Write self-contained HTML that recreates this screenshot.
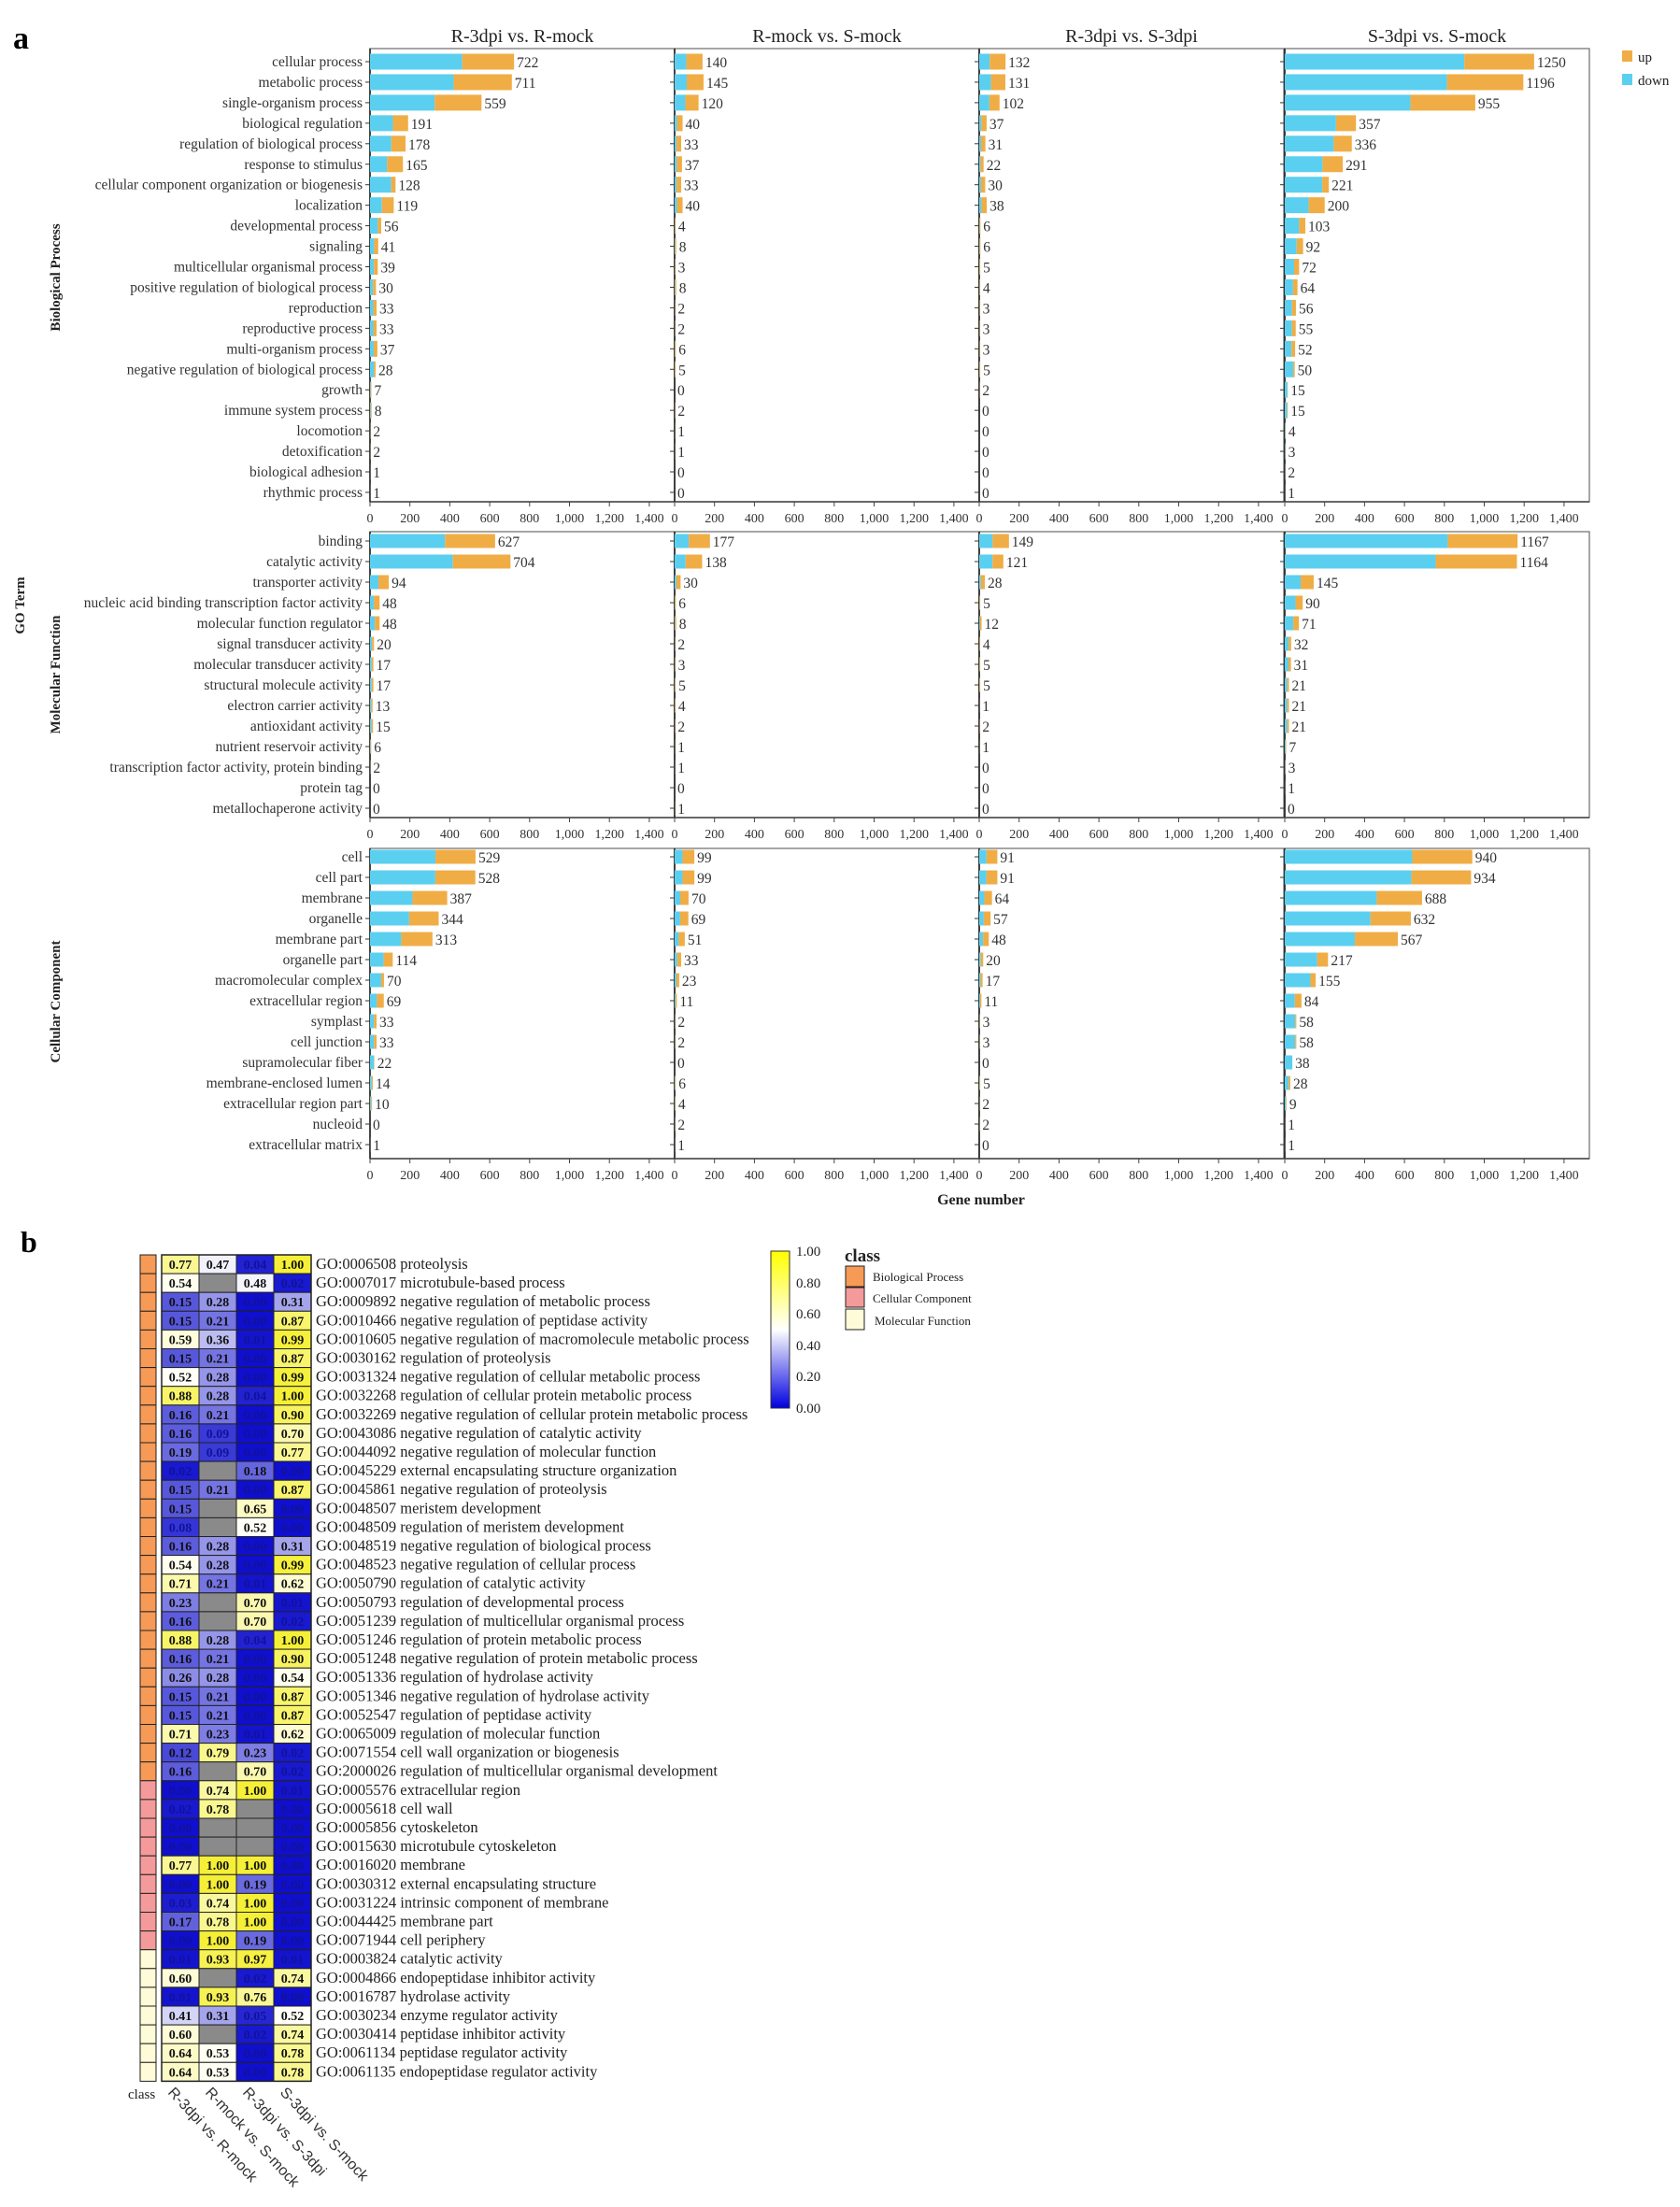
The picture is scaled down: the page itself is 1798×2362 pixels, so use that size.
<!DOCTYPE html>
<html><head><meta charset="utf-8"><style>
html,body{margin:0;padding:0;background:#fff;}
svg{display:block;}
</style></head><body>
<svg id="s" xmlns="http://www.w3.org/2000/svg" width="1798" height="2362" viewBox="0 0 1798 2362">
<rect width="1798" height="2362" fill="#fff"/>
<text x="14" y="52" font-family="Liberation Serif, serif" font-weight="bold" font-size="34">a</text>
<text x="22" y="1340" font-family="Liberation Serif, serif" font-weight="bold" font-size="32">b</text>
<g font-family="Liberation Serif, serif" font-size="20" text-anchor="middle" fill="#222">
<text x="559" y="45">R-3dpi vs. R-mock</text>
<text x="885" y="45">R-mock vs. S-mock</text>
<text x="1211" y="45">R-3dpi vs. S-3dpi</text>
<text x="1538" y="45">S-3dpi vs. S-mock</text>
</g>
<g font-family="Liberation Serif, serif" font-weight="bold" font-size="15" text-anchor="middle" fill="#222">
<text transform="translate(64,297) rotate(-90)">Biological  Process</text>
<text transform="translate(64,722) rotate(-90)">Molecular  Function</text>
<text transform="translate(64,1072) rotate(-90)">Cellular  Component</text>
<text transform="translate(26,648) rotate(-90)">GO Term</text>
<text x="1050" y="1289" font-size="16">Gene number</text>
</g>
<rect x="1736" y="54" width="11" height="12" fill="#f0ad45"/>
<rect x="1736" y="79" width="11" height="12" fill="#5bcff0"/>
<g font-family="Liberation Serif, serif" font-size="15" fill="#222">
<text x="1753" y="66">up</text><text x="1753" y="91">down</text>
</g>
<g id="charts"></g>
<g id="heat"></g>
<defs><linearGradient id="cb" x1="0" y1="1" x2="0" y2="0">
<stop offset="0" stop-color="#0000e0"/><stop offset="0.5" stop-color="#ffffff"/><stop offset="1" stop-color="#ffff00"/></linearGradient></defs>
<rect x="825" y="1339" width="20" height="168" fill="url(#cb)" stroke="#333" stroke-width="1"/>
<g font-family="Liberation Serif, serif" font-size="15" fill="#222">
<text x="852" y="1344">1.00</text><text x="852" y="1378">0.80</text><text x="852" y="1411">0.60</text>
<text x="852" y="1445">0.40</text><text x="852" y="1478">0.20</text><text x="852" y="1512">0.00</text>
<text x="904" y="1350" font-weight="bold" font-size="19">class</text>
<text x="934" y="1371" font-size="13">Biological Process</text>
<text x="934" y="1394" font-size="13">Cellular Component</text>
<text x="936" y="1418" font-size="13">Molecular Function</text>
</g>
<rect x="905" y="1355" width="20" height="22" fill="#f79a55" stroke="#222"/>
<rect x="905" y="1378" width="20" height="21" fill="#f59a9a" stroke="#222"/>
<rect x="905" y="1401" width="20" height="22" fill="#fdfbd8" stroke="#222"/>
</svg>
<script>
var NS="http://www.w3.org/2000/svg";
function el(p,t,a,txt){var e=document.createElementNS(NS,t);for(var k in a)e.setAttribute(k,a[k]);if(txt!==undefined)e.textContent=txt;p.appendChild(e);return e;}
var C=document.getElementById("charts");
var PX=[396,722,1048,1375],W=326,K=0.2135;
function section(top,bottom,y0,sp,bh,labels,vals,fr){
  labels.forEach(function(l,i){el(C,"text",{x:388,y:y0+i*sp+5,"text-anchor":"end","font-family":"Liberation Serif, serif","font-size":15.5,fill:"#333"},l);});
  for(var p=0;p<4;p++){
    var x0=PX[p];
    el(C,"rect",{x:x0,y:top,width:W,height:bottom-top,fill:"none",stroke:"#777","stroke-width":1.3});
    el(C,"line",{x1:x0,y1:top,x2:x0,y2:bottom,stroke:"#222","stroke-width":1.6});
    el(C,"line",{x1:x0,y1:bottom,x2:x0+W,y2:bottom,stroke:"#444","stroke-width":1.4});
    for(var t=0;t<=1400;t+=200){var tx=x0+t*K;
      el(C,"line",{x1:tx,y1:bottom,x2:tx,y2:bottom+5,stroke:"#444"});
      el(C,"text",{x:tx,y:bottom+22,"text-anchor":"middle","font-family":"Liberation Serif, serif","font-size":14,fill:"#333"},t>=1000?(t/1000|0)+","+String(t%1000).padStart(3,"0"):String(t));}
    vals[p].forEach(function(v,i){var cy=y0+i*sp;
      el(C,"line",{x1:x0-5,y1:cy,x2:x0,y2:cy,stroke:"#333"});
      var w=v*K,f=fr[p][i];
      if(w>0){el(C,"rect",{x:x0,y:cy-bh/2,width:w*f,height:bh,fill:"#5bcff0"});
        el(C,"rect",{x:x0+w*f,y:cy-bh/2,width:w*(1-f),height:bh,fill:"#f0ad45"});}
      el(C,"text",{x:x0+w+3,y:cy+6,"font-family":"Liberation Serif, serif","font-size":15.5,fill:"#333"},String(v));
    });
  }
}
function fill(n,d,o){var a=[];for(var i=0;i<n;i++)a.push(d);for(var k in o)a[k]=o[k];return a;}
section(52,537,66,21.95,17,
["cellular process","metabolic process","single-organism process","biological regulation","regulation of biological process","response to stimulus","cellular component organization or biogenesis","localization","developmental process","signaling","multicellular organismal process","positive regulation of biological process","reproduction","reproductive process","multi-organism process","negative regulation of biological process","growth","immune system process","locomotion","detoxification","biological adhesion","rhythmic process"],
[[722,711,559,191,178,165,128,119,56,41,39,30,33,33,37,28,7,8,2,2,1,1],
 [140,145,120,40,33,37,33,40,4,8,3,8,2,2,6,5,0,2,1,1,0,0],
 [132,131,102,37,31,22,30,38,6,6,5,4,3,3,3,5,2,0,0,0,0,0],
 [1250,1196,955,357,336,291,221,200,103,92,72,64,56,55,52,50,15,15,4,3,2,1]],
[fill(22,0.5,{0:0.64,1:0.59,2:0.58,3:0.6,4:0.6,5:0.52,6:0.83,7:0.5,8:0.7,15:0.7}),
 fill(22,0.3,{0:0.42,1:0.42,2:0.45}),
 fill(22,0.3,{0:0.4,1:0.45,2:0.5}),
 fill(22,0.65,{0:0.72,1:0.68,2:0.66,3:0.72,4:0.73,5:0.65,6:0.85,7:0.6,8:0.7,15:0.85,16:0.9,17:0.8})]);
section(569,875,579,22,15,
["binding","catalytic activity","transporter activity","nucleic acid binding transcription factor activity","molecular function regulator","signal transducer activity","molecular transducer activity","structural molecule activity","electron carrier activity","antioxidant activity","nutrient reservoir activity","transcription factor activity, protein binding","protein tag","metallochaperone activity"],
[[627,704,94,48,48,20,17,17,13,15,6,2,0,0],
 [177,138,30,6,8,2,3,5,4,2,1,1,0,1],
 [149,121,28,5,12,4,5,5,1,2,1,0,0,0],
 [1167,1164,145,90,71,32,31,21,21,21,7,3,1,0]],
[fill(14,0.5,{0:0.6,1:0.59,2:0.45,3:0.4}),fill(14,0.3,{0:0.4,1:0.4}),fill(14,0.3,{0:0.45,1:0.55}),fill(14,0.6,{0:0.7,1:0.65,2:0.55,3:0.6})]);
section(908,1240,917,22,15,
["cell","cell part","membrane","organelle","membrane part","organelle part","macromolecular complex","extracellular region","symplast","cell junction","supramolecular fiber","membrane-enclosed lumen","extracellular region part","nucleoid","extracellular matrix"],
[[529,528,387,344,313,114,70,69,33,33,22,14,10,0,1],
 [99,99,70,69,51,33,23,11,2,2,0,6,4,2,1],
 [91,91,64,57,48,20,17,11,3,3,0,5,2,2,0],
 [940,934,688,632,567,217,155,84,58,58,38,28,9,1,1]],
[fill(15,0.6,{0:0.62,1:0.62,2:0.55,3:0.57,4:0.5,5:0.6,6:0.8,7:0.5,10:0.9}),fill(15,0.4,{}),fill(15,0.4,{}),fill(15,0.7,{0:0.68,1:0.68,2:0.67,3:0.68,4:0.62,5:0.75,6:0.83,7:0.6,8:0.9,9:0.9,10:1})]);

var H=document.getElementById("heat");
var N=null;
var rows=[
["GO:0006508 proteolysis",0,[0.77,0.47,0.04,1.00]],
["GO:0007017 microtubule-based process",0,[0.54,N,0.48,0.02]],
["GO:0009892 negative regulation of metabolic process",0,[0.15,0.28,0.00,0.31]],
["GO:0010466 negative regulation of peptidase activity",0,[0.15,0.21,0.00,0.87]],
["GO:0010605 negative regulation of macromolecule metabolic process",0,[0.59,0.36,0.01,0.99]],
["GO:0030162 regulation of proteolysis",0,[0.15,0.21,0.00,0.87]],
["GO:0031324 negative regulation of cellular metabolic process",0,[0.52,0.28,0.00,0.99]],
["GO:0032268 regulation of cellular protein metabolic process",0,[0.88,0.28,0.04,1.00]],
["GO:0032269 negative regulation of cellular protein metabolic process",0,[0.16,0.21,0.00,0.90]],
["GO:0043086 negative regulation of catalytic activity",0,[0.16,0.09,0.00,0.70]],
["GO:0044092 negative regulation of molecular function",0,[0.19,0.09,0.00,0.77]],
["GO:0045229 external encapsulating structure organization",0,[0.02,N,0.18,0.00]],
["GO:0045861 negative regulation of proteolysis",0,[0.15,0.21,0.00,0.87]],
["GO:0048507 meristem development",0,[0.15,N,0.65,0.00]],
["GO:0048509 regulation of meristem development",0,[0.08,N,0.52,0.00]],
["GO:0048519 negative regulation of biological process",0,[0.16,0.28,0.00,0.31]],
["GO:0048523 negative regulation of cellular process",0,[0.54,0.28,0.00,0.99]],
["GO:0050790 regulation of catalytic activity",0,[0.71,0.21,0.01,0.62]],
["GO:0050793 regulation of developmental process",0,[0.23,N,0.70,0.01]],
["GO:0051239 regulation of multicellular organismal process",0,[0.16,N,0.70,0.02]],
["GO:0051246 regulation of protein metabolic process",0,[0.88,0.28,0.04,1.00]],
["GO:0051248 negative regulation of protein metabolic process",0,[0.16,0.21,0.00,0.90]],
["GO:0051336 regulation of hydrolase activity",0,[0.26,0.28,0.00,0.54]],
["GO:0051346 negative regulation of hydrolase activity",0,[0.15,0.21,0.00,0.87]],
["GO:0052547 regulation of peptidase activity",0,[0.15,0.21,0.00,0.87]],
["GO:0065009 regulation of molecular function",0,[0.71,0.23,0.01,0.62]],
["GO:0071554 cell wall organization or biogenesis",0,[0.12,0.79,0.23,0.02]],
["GO:2000026 regulation of multicellular organismal development",0,[0.16,N,0.70,0.02]],
["GO:0005576 extracellular region",1,[0.00,0.74,1.00,0.01]],
["GO:0005618 cell wall",1,[0.02,0.78,N,0.00]],
["GO:0005856 cytoskeleton",1,[0.00,N,N,0.00]],
["GO:0015630 microtubule cytoskeleton",1,[0.00,N,N,0.00]],
["GO:0016020 membrane",1,[0.77,1.00,1.00,0.00]],
["GO:0030312 external encapsulating structure",1,[0.00,1.00,0.19,0.00]],
["GO:0031224 intrinsic component of membrane",1,[0.03,0.74,1.00,0.00]],
["GO:0044425 membrane part",1,[0.17,0.78,1.00,0.00]],
["GO:0071944 cell periphery",1,[0.00,1.00,0.19,0.00]],
["GO:0003824 catalytic activity",2,[0.01,0.93,0.97,0.01]],
["GO:0004866 endopeptidase inhibitor activity",2,[0.60,N,0.02,0.74]],
["GO:0016787 hydrolase activity",2,[0.01,0.93,0.76,0.00]],
["GO:0030234 enzyme regulator activity",2,[0.41,0.31,0.05,0.52]],
["GO:0030414 peptidase inhibitor activity",2,[0.60,N,0.02,0.74]],
["GO:0061134 peptidase regulator activity",2,[0.64,0.53,0.00,0.78]],
["GO:0061135 endopeptidase regulator activity",2,[0.64,0.53,0.00,0.78]]];
var CLS=["#f79a55","#f59a9a","#fdfbd8"];
function col(v){var r,g,b;
 if(v<=0.5){var t=v/0.5;r=15+t*240;g=15+t*240;b=205+t*50;}
 else{var t=(v-0.5)/0.5;r=255-t*10;g=255-t*15;b=255-t*200;}
 return "rgb("+Math.round(r)+","+Math.round(g)+","+Math.round(b)+")";}
var TOP=1343,RH=20.1,CX=[173,213,253,293],CW=40;
rows.forEach(function(r,i){var y=TOP+i*RH;
 el(H,"rect",{x:150,y:y,width:17,height:RH,fill:CLS[r[1]],stroke:"#222","stroke-width":1});
 r[2].forEach(function(v,j){
  el(H,"rect",{x:CX[j],y:y,width:CW,height:RH,fill:v===null?"#8a8a8a":col(v),stroke:"#222","stroke-width":1});
  if(v!==null)el(H,"text",{x:CX[j]+CW/2,y:y+15,"text-anchor":"middle","font-family":"Liberation Serif, serif","font-weight":"bold","font-size":14,fill:v<0.1?"#12129a":"#111"},v.toFixed(2));
 });
 el(H,"text",{x:338,y:y+15,"font-family":"Liberation Serif, serif","font-size":16.5,fill:"#222"},r[0]);
});
el(H,"rect",{x:173,y:TOP,width:160,height:RH*44,fill:"none",stroke:"#222","stroke-width":1.5});
el(H,"text",{x:137,y:2246,"font-family":"Liberation Serif, serif","font-size":15,fill:"#222"},"class");
["R-3dpi vs. R-mock","R-mock vs. S-mock","R-3dpi vs. S-3dpi","S-3dpi vs. S-mock"].forEach(function(t,j){
 el(H,"text",{transform:"translate("+(CX[j]+6)+",2240) rotate(47)","font-family":"Liberation Sans, sans-serif","font-size":16,fill:"#333"},t);});
</script>
</body></html>
